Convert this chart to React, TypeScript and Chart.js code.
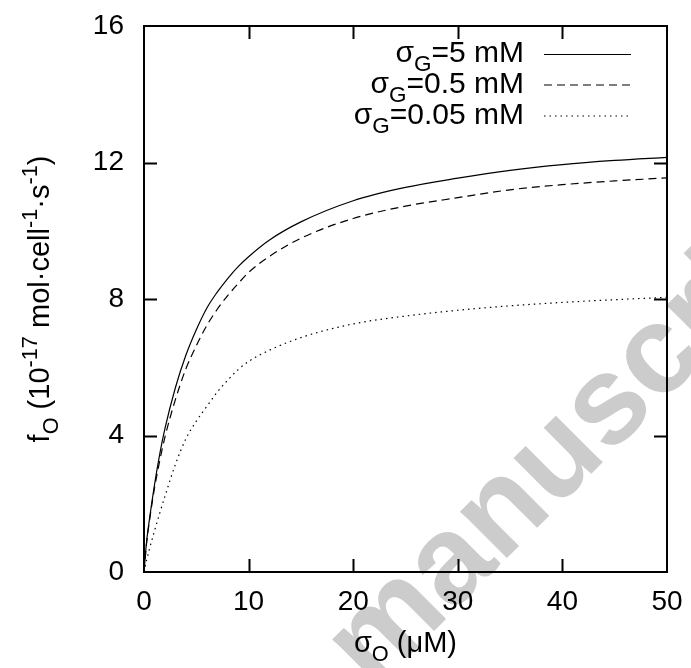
import React, { useEffect, useRef } from "react";
import { Chart, registerables } from "chart.js";

Chart.register(...registerables);

const xValues = [0, 0.25, 0.5, 1, 1.5, 2, 3, 4, 5, 6, 7, 8, 9, 10, 12, 15, 20, 25, 30, 35, 40, 45, 50];
const fG5 = [0, 0.9, 1.5, 2.55, 3.45, 4.2, 5.4, 6.35, 7.1, 7.73, 8.2, 8.6, 8.95, 9.24, 9.73, 10.26, 10.88, 11.27, 11.54, 11.77, 11.94, 12.06, 12.15];
const fG05 = [0, 0.85, 1.45, 2.45, 3.25, 3.95, 5.05, 5.95, 6.63, 7.22, 7.7, 8.1, 8.45, 8.78, 9.25, 9.78, 10.36, 10.72, 10.97, 11.2, 11.35, 11.46, 11.55];
const fG005 = [0, 0.35, 0.65, 1.2, 1.72, 2.22, 3.15, 3.9, 4.42, 4.85, 5.27, 5.62, 5.93, 6.17, 6.5, 6.87, 7.27, 7.5, 7.67, 7.8, 7.9, 7.98, 8.05];

const seriesLabels = ["5", "0.5", "0.05"];
const seriesDashes = [[], [8, 5], [1.5, 4]];
const xTicks = [0, 10, 20, 30, 40, 50];
const yTicks = [0, 4, 8, 12, 16];

const FONT = "'Liberation Sans', Arial, Helvetica, sans-serif";

type Part = { t: string; k?: "sub" | "sup" };

function drawRich(ctx: CanvasRenderingContext2D, parts: Part[], x: number, y: number, size: number, align: "left" | "right" | "center") {
  const measure = (p: Part) => {
    ctx.font = `${p.k ? size * 0.75 : size}px ${FONT}`;
    return ctx.measureText(p.t).width;
  };
  const total = parts.reduce((s, p) => s + measure(p), 0);
  let cx = align === "left" ? x : align === "right" ? x - total : x - total / 2;
  ctx.textAlign = "left";
  ctx.textBaseline = "alphabetic";
  for (const p of parts) {
    const w = measure(p);
    ctx.font = `${p.k ? size * 0.75 : size}px ${FONT}`;
    const dy = p.k === "sub" ? size * 0.3 : p.k === "sup" ? -size * 0.42 : 0;
    ctx.fillText(p.t, cx, y + dy);
    cx += w;
  }
}

const decorPlugin = {
  id: "decor",
  beforeDraw(chart: any) {
    const ctx = chart.ctx as CanvasRenderingContext2D;
    ctx.save();
    ctx.fillStyle = "#ffffff";
    ctx.fillRect(0, 0, chart.width, chart.height);
    ctx.translate(373, 692);
    ctx.rotate(-Math.PI / 4);
    ctx.font = `bold 125px ${FONT}`;
    ctx.fillStyle = "#cccccc";
    ctx.textAlign = "left";
    ctx.textBaseline = "alphabetic";
    ctx.fillText("manuscript", 0, 0);
    ctx.restore();
  },
  afterDraw(chart: any) {
    const ctx = chart.ctx as CanvasRenderingContext2D;
    const { left, right, top, bottom } = chart.chartArea;
    const xs = chart.scales.x;
    const ys = chart.scales.y;
    ctx.save();
    ctx.strokeStyle = "#000";
    ctx.lineWidth = 2;
    ctx.setLineDash([]);
    ctx.strokeRect(left, top, right - left, bottom - top);
    const tl = 13;
    ctx.beginPath();
    for (const v of xTicks) {
      const px = Math.round(xs.getPixelForValue(v)) + 0.5;
      if (v === 0 || v === 50) continue;
      ctx.moveTo(px, bottom);
      ctx.lineTo(px, bottom - tl);
      ctx.moveTo(px, top);
      ctx.lineTo(px, top + tl);
    }
    for (const v of yTicks) {
      const py = Math.round(ys.getPixelForValue(v)) + 0.5;
      if (v === 0 || v === 16) continue;
      ctx.moveTo(left, py);
      ctx.lineTo(left + tl, py);
      ctx.moveTo(right, py);
      ctx.lineTo(right - tl, py);
    }
    ctx.stroke();

    ctx.fillStyle = "#000";
    // legend
    const rowsY = [54, 84.5, 115.5];
    chart.data.datasets.forEach((ds: any, i: number) => {
      const ly = rowsY[i];
      drawRich(ctx, [{ t: "σ" }, { t: "G", k: "sub" }, { t: `=${seriesLabels[i]} mM` }], 524, ly + 8, 30, "right");
      ctx.beginPath();
      ctx.lineWidth = 1.2;
      ctx.setLineDash(seriesDashes[i]);
      ctx.moveTo(544, ly + 0.5);
      ctx.lineTo(631, ly + 0.5);
      ctx.stroke();
    });
    ctx.setLineDash([]);

    // x title
    drawRich(ctx, [{ t: "σ" }, { t: "O", k: "sub" }, { t: " (μM)" }], (left + right) / 2, 652, 29, "center");

    // y title
    ctx.save();
    ctx.translate(49, (top + bottom) / 2);
    ctx.rotate(-Math.PI / 2);
    drawRich(
      ctx,
      [
        { t: "f" },
        { t: "O", k: "sub" },
        { t: " (10" },
        { t: "-17", k: "sup" },
        { t: " mol·cell" },
        { t: "-1", k: "sup" },
        { t: "·s" },
        { t: "-1", k: "sup" },
        { t: ")" },
      ],
      0,
      0,
      29,
      "center"
    );
    ctx.restore();
    ctx.restore();
  },
};

export default function App() {
  const ref = useRef<HTMLCanvasElement | null>(null);
  useEffect(() => {
    if (!ref.current) return;
    const mk = (vals: number[]) => xValues.map((x, i) => ({ x, y: vals[i] }));
    const chart = new Chart(ref.current, {
      type: "line",
      data: {
        datasets: [fG5, fG05, fG005].map((vals, i) => ({
          label: `σG=${seriesLabels[i]} mM`,
          data: mk(vals),
          borderColor: "#000",
          borderWidth: 1.2,
          borderDash: seriesDashes[i],
          pointRadius: 0,
          fill: false,
          cubicInterpolationMode: "monotone" as const,
        })),
      },
      options: {
        responsive: false,
        animation: false,
        devicePixelRatio: 1,
        layout: { padding: { left: 0, right: 24, top: 26, bottom: 0 } },
        plugins: { legend: { display: false }, tooltip: { enabled: false } },
        scales: {
          x: {
            type: "linear",
            min: 0,
            max: 50,
            afterBuildTicks: (s: any) => {
              s.ticks = xTicks.map((v) => ({ value: v }));
            },
            afterFit: (s: any) => {
              s.height = 96;
              s.paddingLeft = 0;
              s.paddingRight = 0;
            },
            grid: { display: false, drawTicks: false },
            border: { display: false },
            ticks: { color: "#000", font: { family: FONT, size: 28 }, padding: 13, maxRotation: 0 },
          },
          y: {
            type: "linear",
            min: 0,
            max: 16,
            afterBuildTicks: (s: any) => {
              s.ticks = yTicks.map((v) => ({ value: v }));
            },
            afterFit: (s: any) => {
              s.width = 144;
              s.paddingTop = 0;
              s.paddingBottom = 0;
            },
            grid: { display: false, drawTicks: false },
            border: { display: false },
            ticks: { color: "#000", font: { family: FONT, size: 28 }, padding: 20 },
          },
        },
      },
      plugins: [decorPlugin],
    });
    return () => chart.destroy();
  }, []);
  return (
    <div style={{ position: "absolute", left: 0, top: 0, width: 691, height: 668 }}>
      <canvas ref={ref} width={691} height={668} />
    </div>
  );
}
